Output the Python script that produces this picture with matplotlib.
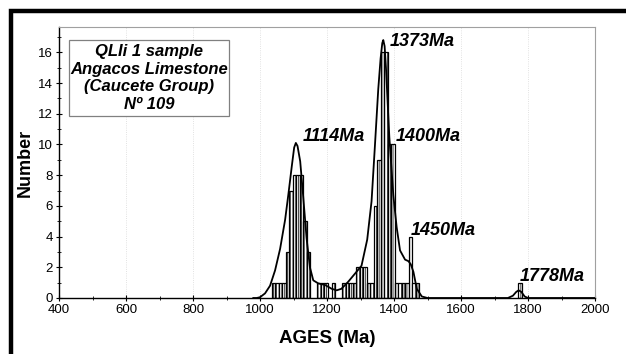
import matplotlib.pyplot as plt
from matplotlib.patches import Rectangle
from matplotlib.lines import Line2D
import numpy as np

plt.rcParams['font.family'] = ['Liberation Sans', 'DejaVu Sans']
plt.rcParams['hatch.linewidth'] = 0.5

# histogram bins (left edge, Ma) and counts
bin_left = [1035, 1045.5, 1056, 1066.5, 1077, 1087.5, 1098, 1108.5, 1119, 1129.5, 1140,
            1171.5, 1182, 1192.5, 1213.5, 1245, 1255.5, 1266, 1276.5, 1287, 1297.5, 1308,
            1318.5, 1329, 1339.5, 1350, 1360.5, 1371, 1381.5, 1392, 1402.5, 1413, 1423.5,
            1434, 1444.5, 1455, 1465.5, 1771.5]
counts = [1, 1, 1, 1, 3, 7, 8, 8, 8, 5, 3,
          1, 1, 1, 1, 1, 1, 1, 1, 2, 2, 2,
          1, 1, 6, 9, 16, 16, 10, 10, 1, 1, 1,
          1, 4, 1, 1, 1]
bin_w = 10.5

# probability curve
curve_age = [980, 990, 1000, 1015, 1030, 1045, 1060, 1075, 1085, 1095, 1102, 1107, 1112,
             1120, 1129, 1139, 1149, 1159, 1174, 1194, 1214, 1229, 1243, 1263, 1284, 1303,
             1320, 1333, 1343, 1353, 1360, 1365, 1368, 1372, 1376, 1386, 1398, 1408, 1418,
             1433, 1443, 1450, 1458, 1468, 1483, 1500, 1740, 1755, 1765, 1772, 1780, 1790,
             1800, 2000]
curve_val = [0, 0, 0.05, 0.3, 0.8, 1.8, 3.2, 5.1, 6.8, 8.6, 9.8, 10.1, 9.9,
             8.9, 6.6, 3.9, 2.0, 1.15, 0.95, 0.85, 0.6, 0.5, 0.6, 1.05, 1.6, 2.1,
             3.8, 6.3, 9.9, 13.6, 15.6, 16.6, 16.8, 16.4, 15.0, 10.5, 6.7, 4.6, 3.1,
             2.5, 2.4, 2.2, 1.7, 0.6, 0.1, 0, 0, 0.15, 0.4, 0.5, 0.4, 0.1,
             0, 0]

peak_labels = ['1114Ma', '1373Ma', '1400Ma', '1450Ma', '1778Ma']
peak_x = [1127, 1388, 1406, 1451, 1776]
peak_y = [10.5, 16.7, 10.5, 4.4, 1.4]

box_lines = ['QLIi 1 sample', 'Angacos Limestone', '(Caucete Group)', 'Nº 109']

fig = plt.figure(figsize=(6.26, 3.54), dpi=100)
ax = fig.add_axes([59 / 626, 56 / 354, 536 / 626, 271 / 354])

ax.bar(bin_left, counts, width=bin_w, align='edge', color='white', edgecolor='black',
       linewidth=0.9, hatch='||||||', zorder=2)
ax.plot(curve_age, curve_val, color='black', linewidth=1.3, zorder=3)

for lab, x, y in zip(peak_labels, peak_x, peak_y):
    ax.text(x, y, lab, fontsize=13, fontweight='bold', fontstyle='italic',
            ha='left', va='center', zorder=4)

ax.set_xlim(400, 2000)
ax.set_ylim(0, 17.65)
ax.set_xticks(np.arange(400, 2001, 200))
ax.set_xticks(np.arange(400, 2001, 100), minor=True)
ax.set_yticks(np.arange(0, 17, 2))
ax.set_yticks(np.arange(0, 18, 1), minor=True)
ax.tick_params(axis='both', which='major', direction='inout', length=5, width=0.8,
               labelsize=9.5, pad=2)
ax.tick_params(axis='both', which='minor', direction='inout', length=3, width=0.6)

for x in range(600, 2000, 200):
    ax.axvline(x, color='#d8d8d8', linewidth=0.6, linestyle=':', zorder=0)

for s in ['top', 'right']:
    ax.spines[s].set_color('#a0a0a0')
    ax.spines[s].set_linewidth(0.8)
for s in ['left', 'bottom']:
    ax.spines[s].set_linewidth(1.0)

ax.set_xlabel('AGES (Ma)', fontsize=13.5, fontweight='bold', labelpad=10)
ax.set_ylabel('Number', fontsize=13, fontweight='bold', labelpad=3)

ax.add_patch(Rectangle((0.0187, 0.672), 0.298, 0.28, transform=ax.transAxes,
                       facecolor='white', edgecolor='#808080', linewidth=0.9, zorder=5))
ax.text(0.168, 0.812, '\n'.join(box_lines), transform=ax.transAxes, fontsize=12,
        fontweight='bold', fontstyle='italic', ha='center', va='center',
        linespacing=1.2, zorder=6)

# thick frame around the figure (top and left visible)
fig.add_artist(Line2D([10.5 / 626, 10.5 / 626, 1.01], [-0.01, 1 - 11 / 354, 1 - 11 / 354],
                      transform=fig.transFigure, color='black', linewidth=3.2,
                      solid_joinstyle='miter'))

fig.savefig('out.png', dpi=100)
